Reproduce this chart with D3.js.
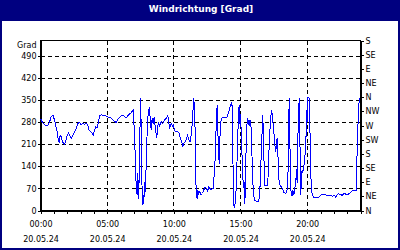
<!DOCTYPE html>
<html>
<head>
<meta charset="utf-8">
<title>Windrichtung</title>
<script src="https://cdn.jsdelivr.net/npm/d3@7"></script>
<style>
  html, body { margin: 0; padding: 0; background: #fff; }
  svg { display: block; }
  text { font-family: "DejaVu Sans", Verdana, sans-serif; font-size: 8px; fill: #000; }
</style>
</head>
<body>
<div id="chart"></div>
<script>
// chart texts
const TITLE = "Windrichtung [Grad]";
const UNIT = "Grad";
const DATE_LABEL = "20.05.24";

// measured wind direction, hours since 00:00 on 20.05.24
const hours = [
    0.0, 0.2, 0.37, 0.55, 0.7, 0.82, 0.95, 1.05, 1.15, 1.25, 1.32, 1.4, 1.47, 1.55, 1.62, 1.7, 1.8, 1.9,
    2.0, 2.1, 2.2, 2.3, 2.42, 2.55, 2.67, 2.8, 2.92, 3.05, 3.17, 3.3, 3.42, 3.55, 3.65, 3.75, 3.85, 3.95,
    4.05, 4.15, 4.25, 4.35, 4.45, 4.57, 4.7, 4.87, 5.05, 5.3, 5.45, 5.67, 5.85, 6.05, 6.25, 6.42, 6.6, 6.8,
    6.95, 7.0, 7.07, 7.12, 7.2, 7.25, 7.3, 7.35, 7.4, 7.45, 7.5, 7.55, 7.6, 7.65, 7.7, 7.75, 7.8, 7.87,
    7.95, 8.02, 8.1, 8.17, 8.25, 8.3, 8.37, 8.45, 8.52, 8.6, 8.67, 8.72, 8.77, 8.85, 8.92, 9.05, 9.17, 9.3,
    9.42, 9.55, 9.62, 9.67, 9.75, 9.82, 9.9, 9.97, 10.05, 10.15, 10.3, 10.4, 10.5, 10.6, 10.67, 10.75, 10.85, 10.95,
    11.02, 11.1, 11.17, 11.25, 11.32, 11.4, 11.45, 11.5, 11.55, 11.6, 11.65, 11.7, 11.75, 11.8, 11.87, 11.95, 12.05, 12.15,
    12.25, 12.35, 12.45, 12.55, 12.62, 12.7, 12.8, 12.9, 12.97, 13.02, 13.1, 13.17, 13.25, 13.3, 13.35, 13.4, 13.45, 13.5,
    13.55, 13.65, 13.8, 13.97, 14.05, 14.15, 14.25, 14.35, 14.4, 14.47, 14.55, 14.62, 14.7, 14.77, 14.85, 14.9, 14.95, 15.0,
    15.07, 15.15, 15.22, 15.27, 15.32, 15.37, 15.42, 15.47, 15.55, 15.6, 15.65, 15.72, 15.77, 15.82, 15.9, 15.97, 16.07, 16.2,
    16.32, 16.4, 16.47, 16.55, 16.62, 16.67, 16.72, 16.77, 16.82, 16.9, 17.0, 17.05, 17.1, 17.17, 17.25, 17.32, 17.4, 17.45,
    17.5, 17.55, 17.6, 17.65, 17.7, 17.75, 17.8, 17.85, 17.9, 17.97, 18.07, 18.15, 18.22, 18.32, 18.4, 18.47, 18.55, 18.6,
    18.65, 18.7, 18.75, 18.8, 18.87, 18.92, 19.0, 19.07, 19.15, 19.2, 19.25, 19.3, 19.35, 19.4, 19.45, 19.5, 19.52, 19.57,
    19.62, 19.67, 19.72, 19.77, 19.82, 19.87, 19.92, 19.97, 20.0, 20.05, 20.12, 20.17, 20.22, 20.27, 20.32, 20.4, 20.5, 20.65,
    20.8, 20.9, 21.0, 21.15, 21.3, 21.45, 21.6, 21.75, 21.9, 22.05, 22.15, 22.25, 22.35, 22.45, 22.52, 22.62, 22.75, 22.85,
    22.95, 23.07, 23.2, 23.3, 23.4, 23.5, 23.6, 23.67, 23.72, 23.8, 23.85, 23.9
];
const direction = [
    292, 276, 271, 271, 284, 300, 301, 287, 269, 250, 229, 215, 239, 234, 223, 215, 210, 223,
    239, 245, 237, 229, 239, 250, 260, 276, 280, 273, 277, 273, 277, 271, 255, 250, 247, 239,
    255, 266, 263, 282, 301, 305, 301, 301, 297, 294, 287, 280, 292, 301, 301, 294, 303, 311,
    319, 280, 229, 123, 70, 49, 118, 38, 102, 229, 356, 271, 102, 17, 49, 22, 91, 59,
    186, 276, 319, 324, 282, 255, 292, 276, 297, 266, 245, 229, 260, 282, 269, 282, 276, 287,
    292, 301, 282, 260, 271, 276, 269, 273, 255, 250, 250, 245, 229, 218, 202, 213, 218, 229,
    239, 231, 218, 218, 250, 282, 329, 356, 313, 250, 91, 54, 38, 65, 54, 61, 49, 54,
    65, 75, 70, 61, 75, 70, 65, 70, 70, 112, 165, 260, 335, 250, 197, 149, 229, 260,
    292, 294, 294, 294, 303, 319, 335, 345, 303, 17, 12, 28, 91, 208, 303, 335, 276, 308,
    229, 133, 70, 91, 22, 70, 197, 271, 292, 271, 287, 266, 287, 229, 123, 49, 33, 28,
    28, 38, 80, 176, 250, 303, 239, 144, 80, 80, 80, 91, 144, 229, 282, 319, 303, 271,
    250, 229, 197, 186, 218, 229, 186, 123, 91, 80, 75, 70, 59, 57, 54, 59, 91, 208,
    358, 229, 102, 49, 47, 65, 49, 70, 91, 133, 86, 229, 292, 356, 229, 123, 49, 102,
    128, 118, 139, 144, 155, 208, 239, 319, 282, 358, 358, 356, 229, 123, 65, 49, 40, 40,
    40, 43, 49, 51, 51, 49, 49, 47, 46, 47, 42, 49, 54, 49, 51, 47, 54, 53,
    51, 52, 54, 59, 65, 65, 65, 65, 144, 271, 282, 356
];

// axis ticks
const gradTicks = [0, 70, 140, 210, 280, 350, 420, 490];
const compassTicks = [0, 45, 90, 135, 180, 225, 270, 315, 360, 405, 450, 495, 540];
const compassLabels = ["N", "NE", "E", "SE", "S", "SW", "W", "NW", "N", "NE", "E", "SE", "S"];
const hourTicks = [0, 5, 10, 15, 20];

const width = 400;
const height = 250;
const navy = "#000080";

const svg = d3.select("#chart")
    .append("svg")
    .attr("width", width)
    .attr("height", height);

// window frame and title bar
svg.append("rect")
    .attr("x", 1).attr("y", 1)
    .attr("width", width - 2).attr("height", height - 2)
    .attr("fill", "#fff")
    .attr("stroke", navy)
    .attr("stroke-width", 2);

svg.append("rect")
    .attr("x", 0).attr("y", 0)
    .attr("width", width).attr("height", 21)
    .attr("fill", navy);

svg.append("text")
    .attr("x", 201)
    .attr("y", 11.5)
    .attr("text-anchor", "middle")
    .style("font-weight", "bold")
    .style("font-size", "9px")
    .style("fill", "#fff")
    .text(TITLE);

// scales
const x = d3.scaleLinear().domain([0, 24]).range([40.5, 360.5]);
const y = d3.scaleLinear().domain([0, 540]).range([210.5, 40.5]);

// dashed grid
const grid = svg.append("g")
    .attr("stroke", "#000")
    .attr("stroke-dasharray", "4,3")
    .attr("shape-rendering", "crispEdges");

grid.selectAll(".hgrid")
    .data(gradTicks.filter(d => d > 0))
    .enter()
    .append("line")
    .attr("x1", x(0)).attr("x2", x(24))
    .attr("y1", d => Math.round(y(d) - 0.5) + 0.5)
    .attr("y2", d => Math.round(y(d) - 0.5) + 0.5);

grid.selectAll(".vgrid")
    .data(hourTicks.filter(d => d > 0))
    .enter()
    .append("line")
    .attr("x1", d => Math.round(x(d) - 0.5) + 0.5)
    .attr("x2", d => Math.round(x(d) - 0.5) + 0.5)
    .attr("y1", y(540)).attr("y2", y(0));

// left axis in degrees
const leftAxis = svg.append("g")
    .attr("transform", "translate(" + x(0) + ",0)")
    .call(d3.axisLeft(y).tickValues(gradTicks).tickSize(3).tickSizeOuter(0).tickPadding(1));

// right axis with compass points
const rightAxis = svg.append("g")
    .attr("transform", "translate(" + x(24) + ",0)")
    .call(d3.axisRight(y).tickValues(compassTicks).tickSize(3).tickSizeOuter(0).tickPadding(2)
        .tickFormat((d, i) => compassLabels[i]));

// bottom axis: hourly minor ticks, labels every 5 hours
svg.append("g")
    .attr("transform", "translate(0," + y(0) + ")")
    .call(d3.axisBottom(x).tickValues(d3.range(0, 25)).tickSize(3).tickSizeOuter(0).tickFormat(""));

const bottomLabels = svg.append("g")
    .attr("transform", "translate(0," + y(0) + ")")
    .call(d3.axisBottom(x).tickValues(hourTicks).tickSize(0).tickSizeOuter(0)
        .tickFormat(h => d3.format("02")(h) + ":00"));
bottomLabels.select(".domain").remove();
bottomLabels.selectAll(".tick text")
    .attr("dy", null)
    .attr("y", 16.5)
    .append("tspan")
    .attr("x", 0)
    .attr("dy", 14.5)
    .text(DATE_LABEL);

svg.selectAll(".domain, .tick line")
    .attr("shape-rendering", "crispEdges");
svg.selectAll(".tick text").attr("fill", "#000");

// unit label above the left axis
svg.append("text")
    .attr("x", 36.5)
    .attr("y", 48)
    .attr("text-anchor", "end")
    .text(UNIT);

// plot frame
svg.append("rect")
    .attr("x", x(0)).attr("y", y(540))
    .attr("width", x(24) - x(0)).attr("height", y(0) - y(540))
    .attr("fill", "none")
    .attr("stroke", "#000")
    .attr("shape-rendering", "crispEdges");

// wind direction line
const line = d3.line()
    .x((d, i) => x(hours[i]))
    .y(d => y(d));

svg.append("path")
    .datum(direction)
    .attr("fill", "none")
    .attr("stroke", "#0000ff")
    .attr("stroke-width", 1)
    .attr("shape-rendering", "crispEdges")
    .attr("d", line);
</script>
</body>
</html>
